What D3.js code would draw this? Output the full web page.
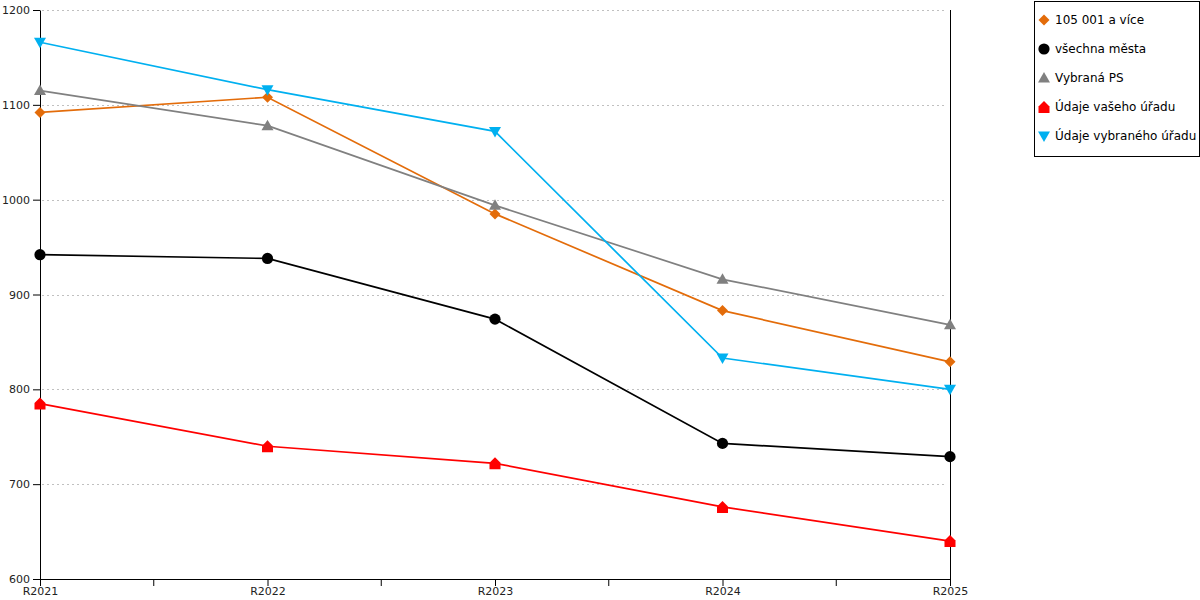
<!DOCTYPE html>
<meta charset="utf-8">
<style>
body { margin: 0; background: #fff; font-family: "DejaVu Sans", sans-serif; }
.axis text { font-family: "DejaVu Sans", sans-serif; font-size: 11px; fill: #222; }
.axis path, .axis line { stroke: #000; }
.grid line { stroke: #c0c0c0; stroke-dasharray: 2,3; }
</style>
<body>
<script src="https://cdn.jsdelivr.net/npm/d3@7"></script>
<script>
var years = ["R2021", "R2022", "R2023", "R2024", "R2025"];
var yTicks = [600, 700, 800, 900, 1000, 1100, 1200];

var names = ["105 001 a více", "všechna města", "Vybraná PS", "Údaje vašeho úřadu", "Údaje vybraného úřadu"];
var colors = ["#e36c0a", "#000000", "#808080", "#ff0000", "#00b0f0"];
var shapes = ["diamond", "circle", "triangle", "house", "triangleDown"];

var velka = [1092, 1108, 985, 883, 829];
var vsechna = [942, 938, 874, 743, 729];
var vybranaPS = [1115, 1078, 994, 916, 868];
var vasUrad = [785, 740, 722, 676, 640];
var vybranyUrad = [1166, 1116, 1072, 833, 800];

var series = [velka, vsechna, vybranaPS, vasUrad, vybranyUrad];

var margin = {left: 40, top: 10, right: 250, bottom: 21},
    width = 1200 - margin.left - margin.right,
    height = 600 - margin.top - margin.bottom;

var svg = d3.select("body").append("svg")
  .attr("width", 1200).attr("height", 600);
var g = svg.append("g").attr("transform", "translate(" + margin.left + "," + margin.top + ")");

var x = d3.scalePoint().domain(years).range([0, width]);
var y = d3.scaleLinear().domain([600, 1200]).range([height, 0]);

// grid
g.append("g").attr("class", "grid")
  .selectAll("line").data(yTicks.slice(1)).enter().append("line")
  .attr("x1", 2).attr("x2", width - 4)
  .attr("y1", function(d) { return Math.round(y(d)) + 0.5; })
  .attr("y2", function(d) { return Math.round(y(d)) + 0.5; });

// right border line
g.append("line")
  .attr("x1", width + 0.5).attr("x2", width + 0.5)
  .attr("y1", 0).attr("y2", height)
  .attr("stroke", "#000");

// y axis
g.append("g").attr("class", "axis")
  .call(d3.axisLeft(y).tickValues(yTicks).tickFormat(d3.format("d"))
    .tickSize(7).tickPadding(3).tickSizeOuter(0));

// x axis
g.append("g").attr("class", "axis")
  .attr("transform", "translate(0," + height + ")")
  .call(d3.axisBottom(x).tickSize(7).tickPadding(1).tickSizeOuter(0));

// minor ticks between categories
var mids = d3.pairs(years).map(function(p) { return (x(p[0]) + x(p[1])) / 2; });
g.append("g").attr("transform", "translate(0," + height + ")")
  .selectAll("line").data(mids).enter().append("line")
  .attr("x1", function(d) { return d; }).attr("x2", function(d) { return d; })
  .attr("y1", 0).attr("y2", 7).attr("stroke", "#000");

function symbolPath(shape) {
  if (shape === "diamond") return "M0,-5.5L5.5,0L0,5.5L-5.5,0Z";
  if (shape === "circle") return d3.symbol().type(d3.symbolCircle).size(Math.PI * 5.6 * 5.6)();
  if (shape === "triangle") return "M0,-6L6,4.5L-6,4.5Z";
  if (shape === "triangleDown") return "M0,6L6,-4.5L-6,-4.5Z";
  // house: square with roof
  return "M-5.5,6L5.5,6L5.5,-0.5L0,-6L-5.5,-0.5Z";
}

var line = d3.line().x(function(d, i) { return x(years[i]); }).y(function(d) { return y(d); });

series.forEach(function(vals, k) {
  g.append("path").datum(vals)
    .attr("fill", "none")
    .attr("stroke", colors[k])
    .attr("stroke-width", 1.7)
    .attr("d", line);
});

series.forEach(function(vals, k) {
  g.selectAll(null).data(vals).enter().append("path")
    .attr("transform", function(d, i) { return "translate(" + x(years[i]) + "," + y(d) + ")"; })
    .attr("d", symbolPath(shapes[k]))
    .attr("fill", colors[k]);
});

// legend
var lg = svg.append("g").attr("transform", "translate(1034,1)");
lg.append("rect").attr("x", 0.5).attr("y", 0.5).attr("width", 165).attr("height", 155)
  .attr("fill", "#fff").attr("stroke", "#000");
names.forEach(function(n, k) {
  var yy = 19 + k * 29;
  lg.append("path")
    .attr("transform", "translate(10," + yy + ")")
    .attr("d", symbolPath(shapes[k]))
    .attr("fill", colors[k]);
  lg.append("text").attr("x", 21).attr("y", yy + 4)
    .attr("font-size", "12px").attr("fill", "#000")
    .text(n);
});
</script>
</body>
